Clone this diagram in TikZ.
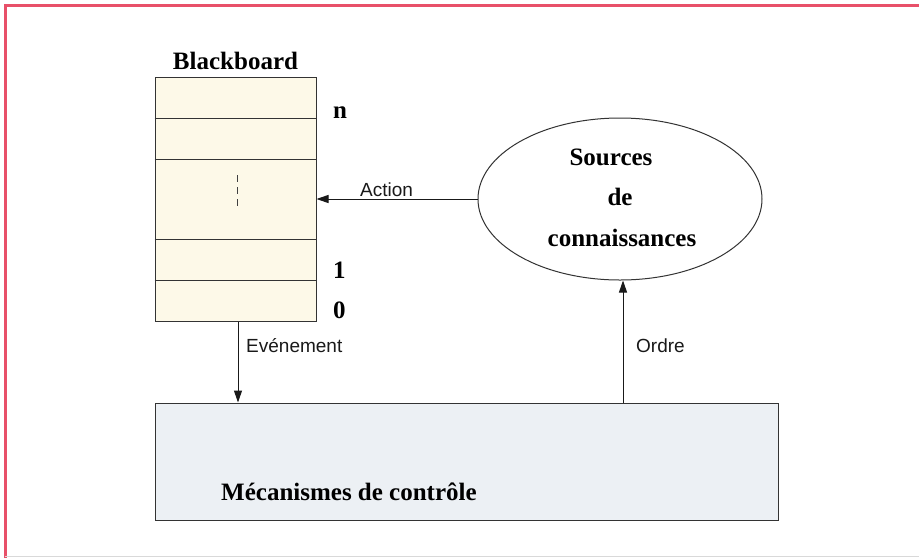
\documentclass[tikz,border=0pt]{standalone}
\usepackage{fontspec}
\setmainfont{Liberation Serif}
\newfontfamily\labfont{Liberation Sans}
\usetikzlibrary{arrows.meta,shapes.geometric}
\definecolor{framered}{RGB}{232,80,105}
\definecolor{bbfill}{RGB}{253,249,232}
\definecolor{ctrlfill}{RGB}{236,240,244}
\begin{document}
\begin{tikzpicture}[x=1pt,y=-1pt,
  arr/.style={draw=black!90, line width=1pt, -{Triangle[length=12pt,width=8pt]}},
  title/.style={font=\bfseries\fontsize{25}{29}\selectfont, inner sep=0pt},
  lab/.style={font=\labfont\fontsize{19}{22}\selectfont, inner sep=0pt, text=black!90},
  box/.style={draw=black!80, line width=1pt, rectangle, inner sep=0pt},
  rowline/.style={draw=black!80, line width=1pt}]
\useasboundingbox (0,0) rectangle (919,558);
\fill[white] (0,0) rectangle (919,558);
% frame
\draw[framered, line width=3pt] (5,558) -- (5,5) -- (919,5);
\draw[black!15, line width=1pt] (5,556) -- (919,556);
% blackboard
\node[box, fill=bbfill, minimum width=161pt, minimum height=244pt] (bb) at (235.5,199) {};
\foreach \yy in {118,159,239,280}
  \draw[rowline] (bb.west |- 0,\yy) -- (bb.east |- 0,\yy);
\draw[black!75, line width=1.3pt, dash pattern=on 7pt off 5pt] ([xshift=2pt]bb.center |- 0,175) -- ([xshift=2pt]bb.center |- 0,210);
\node[title, anchor=base] (bbtitle) at (235.5,69) {Blackboard};
\node[title, anchor=base west] (ln) at (333,118) {n};
\node[title, anchor=base west] (l1) at (333,278) {1};
\node[title, anchor=base west] (l0) at (333,318) {0};
% knowledge sources
\node[ellipse, draw=black!80, line width=1pt, minimum width=284pt, minimum height=162pt, inner sep=0pt] (ks) at (620,199) {};
\node[title, anchor=base] (ks1) at (611,165) {Sources};
\node[title, anchor=base] (ks2) at (620,205) {de};
\node[title, anchor=base] (ks3) at (622,246) {connaissances};
% control
\node[box, fill=ctrlfill, minimum width=623pt, minimum height=117pt] (ctrl) at (466.5,461.5) {};
\node[title, anchor=base west] (ctrltxt) at (221,500) {Mécanismes de contrôle};
% connectors
\draw[arr] (ks.west) -- (ks.west -| bb.east);
\node[lab, anchor=base west] (lact) at (360,196) {Action};
\draw[arr] ([xshift=2.5pt]bb.south) -- ([xshift=2.5pt]bb.south |- ctrl.north);
\node[lab, anchor=base west] (levt) at (246,352) {Evénement};
\draw[arr] ([xshift=3pt]ctrl.north -| ks.south) -- ([xshift=3pt]ks.south);
\node[lab, anchor=base west] (lord) at (636,352) {Ordre};
\end{tikzpicture}
\end{document}
